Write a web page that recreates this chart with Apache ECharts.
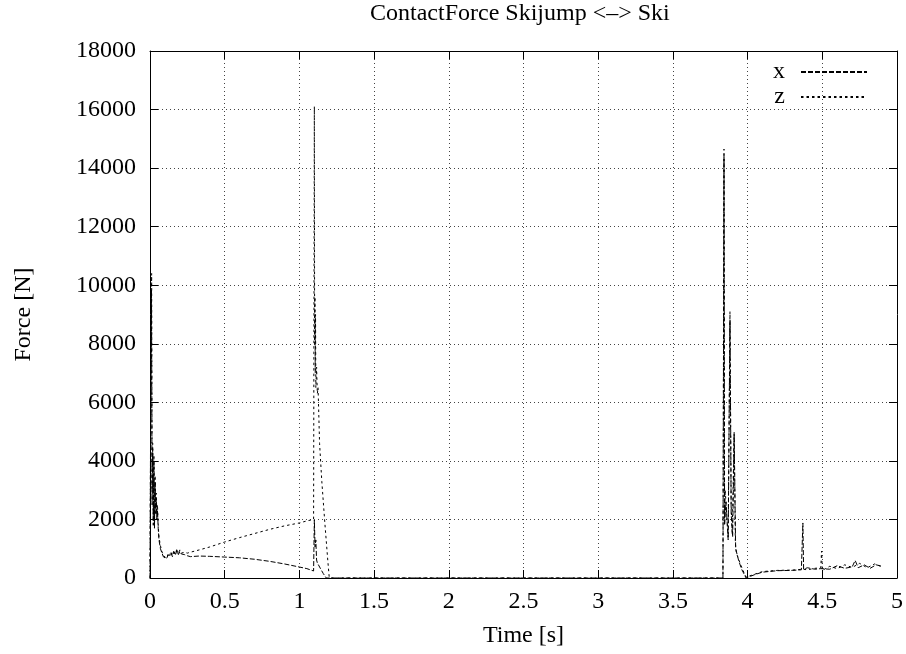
<!DOCTYPE html>
<html><head><meta charset="utf-8">
<script src="https://cdn.jsdelivr.net/npm/echarts@6/dist/echarts.min.js"></script>
<style>html,body{margin:0;padding:0;background:#fff}#c{width:906px;height:654px}</style>
</head><body><div id="c"></div>
<script>
// ---- data ----
const xTicks = [0, 0.5, 1, 1.5, 2, 2.5, 3, 3.5, 4, 4.5, 5];
const yTicks = [0, 2000, 4000, 6000, 8000, 10000, 12000, 14000, 16000, 18000];

const xTime = [0, 0.004, 0.01, 0.014, 0.018, 0.022, 0.026, 0.03, 0.034, 0.038, 0.042, 0.046, 0.05, 0.055, 0.06, 0.07, 0.08, 0.09, 0.1, 0.11, 0.12, 0.13, 0.14, 0.15, 0.16, 0.17, 0.18, 0.19, 0.2, 0.21, 0.22, 0.23, 0.24, 0.25, 0.27,
  0.33, 0.4, 0.5, 0.6, 0.7, 0.8, 0.9, 1.0, 1.05, 1.095, 1.1, 1.105, 1.11, 1.115, 1.12, 1.14, 1.16, 1.18,
  2.0, 3.0, 3.835, 3.842, 3.846, 3.855, 3.87, 3.882, 3.89, 3.9, 3.91, 3.92, 3.94, 3.96, 3.99,
  4.02, 4.05, 4.1, 4.2, 4.3, 4.36, 4.37, 4.375, 4.4, 4.45, 4.49, 4.5, 4.55, 4.6, 4.65, 4.7, 4.72, 4.74, 4.78, 4.82, 4.86, 4.9];
const xForce = [0, 5200, 9800, 2500, 4400, 1800, 4000, 1700, 3300, 2200, 2700, 2000, 2300, 1700, 1300, 1000, 850, 720, 680, 660, 760, 700, 860, 730, 900, 780, 950, 800, 900, 820, 860, 800, 780, 760, 730,
  750, 740, 715, 690, 640, 570, 480, 375, 320, 240, 1980, 1060, 1300, 615, 520, 330, 150, 0,
  0, 0, 0, 14400, 1800, 2600, 1300, 8800, 2200, 1400, 4900, 1000, 600, 300, 0,
  60, 120, 200, 250, 260, 280, 1880, 300, 350, 300, 320, 380, 300, 420, 330, 380, 600, 350, 450, 330, 450, 400];

const zTime = [0, 0.005, 0.011, 0.014, 0.018, 0.022, 0.026, 0.03, 0.034, 0.038, 0.042, 0.046, 0.05, 0.055, 0.06, 0.07, 0.08, 0.09, 0.1, 0.11, 0.12, 0.13, 0.14, 0.15, 0.16, 0.17, 0.18, 0.19, 0.2, 0.21, 0.22, 0.23, 0.24, 0.25, 0.27,
  0.33, 0.4, 0.5, 0.6, 0.7, 0.8, 0.9, 1.0, 1.05, 1.095, 1.1, 1.102, 1.104, 1.106, 1.108, 1.11, 1.115, 1.12, 1.125, 1.135, 1.15, 1.17, 1.19, 1.2,
  2.0, 3.0, 3.835, 3.842, 3.846, 3.85, 3.86, 3.87, 3.882, 3.89, 3.897, 3.91, 3.918, 3.925, 3.95, 3.97, 3.99, 4.0,
  4.1, 4.2, 4.3, 4.37, 4.4, 4.45, 4.49, 4.495, 4.5, 4.55, 4.6, 4.65, 4.7, 4.75, 4.8, 4.85, 4.9];
const zForce = [0, 6000, 10400, 3000, 4600, 2000, 4200, 1800, 3500, 2400, 2900, 2100, 2500, 1800, 1400, 1100, 900, 760, 700, 680, 800, 720, 900, 760, 950, 800, 1000, 820, 960, 850, 900, 880, 860, 850, 880,
  960, 1060, 1230, 1380, 1520, 1660, 1780, 1880, 1950, 2000, 16100, 8000, 9600, 7000, 9000, 6500, 7200, 6300, 6500, 4600, 3300, 1900, 600, 0,
  0, 0, 0, 14650, 2000, 3000, 2200, 1400, 9100, 2500, 1500, 5000, 1200, 850, 500, 250, 30, 0,
  220, 260, 270, 300, 280, 330, 350, 920, 260, 400, 320, 450, 360, 500, 350, 480, 380];

// ---- chart ----
const FONT = 'Liberation Serif';
const FS = 24;
const chart = echarts.init(document.getElementById('c'));
const pair = (t, v) => t.map((x, i) => [x, v[i]]);
const tickStyle = {show: true, inside: true, length: 8, lineStyle: {color: '#000', width: 1}};
const gridLine = {show: true, lineStyle: {color: '#444', type: [1, 3], width: 1}};
const axisLine = {show: true, onZero: false, lineStyle: {color: '#000', width: 1}};
chart.setOption({
  animation: false,
  backgroundColor: '#fff',
  title: {
    text: 'ContactForce Skijump <–> Ski', left: 370, top: 2, padding: 0,
    textStyle: {fontFamily: FONT, fontWeight: 'normal', fontSize: FS, color: '#000'}
  },
  legend: {
    data: ['x', 'z'], orient: 'vertical', right: 38, top: 56, align: 'right', padding: 0,
    itemWidth: 66, itemHeight: 14, itemGap: -7,
    itemStyle: {opacity: 0, borderWidth: 0},
    textStyle: {fontFamily: FONT, fontSize: FS, lineHeight: 24, color: '#000', padding: [8, 11, 0, 0]}
  },
  grid: {left: 150, right: 8, top: 51, bottom: 76},
  xAxis: [{
    type: 'value', min: 0, max: 5, interval: 0.5,
    name: 'Time [s]', nameLocation: 'middle', nameGap: 46,
    nameTextStyle: {fontFamily: FONT, fontSize: FS, color: '#000'},
    axisLine: axisLine, axisTick: tickStyle,
    axisLabel: {fontFamily: FONT, fontSize: FS, color: '#000', margin: 12,
      formatter: v => xTicks.includes(v) ? String(v) : ''},
    splitLine: gridLine
  }, {
    type: 'value', min: 0, max: 5, interval: 0.5, position: 'top',
    axisLine: axisLine, axisTick: tickStyle, axisLabel: {show: false}, splitLine: {show: false}
  }],
  yAxis: [{
    type: 'value', min: 0, max: 18000, interval: 2000,
    name: 'Force [N]', nameLocation: 'middle', nameGap: 114, nameRotate: 90,
    nameTextStyle: {fontFamily: FONT, fontSize: FS, color: '#000'},
    axisLine: axisLine, axisTick: tickStyle,
    axisLabel: {fontFamily: FONT, fontSize: FS, color: '#000', margin: 14,
      formatter: v => yTicks.includes(v) ? String(v) : ''},
    splitLine: gridLine
  }, {
    type: 'value', min: 0, max: 18000, interval: 2000, position: 'right',
    axisLine: axisLine, axisTick: tickStyle, axisLabel: {show: false}, splitLine: {show: false}
  }],
  series: [{
    name: 'x', type: 'line', data: pair(xTime, xForce), showSymbol: false, symbol: 'none',
    lineStyle: {color: '#000', width: 1, type: [5, 2]}, itemStyle: {color: '#000'}
  }, {
    name: 'z', type: 'line', data: pair(zTime, zForce), showSymbol: false, symbol: 'none',
    lineStyle: {color: '#000', width: 1, type: [2.5, 3]}, itemStyle: {color: '#000'}
  }]
});
</script></body></html>
